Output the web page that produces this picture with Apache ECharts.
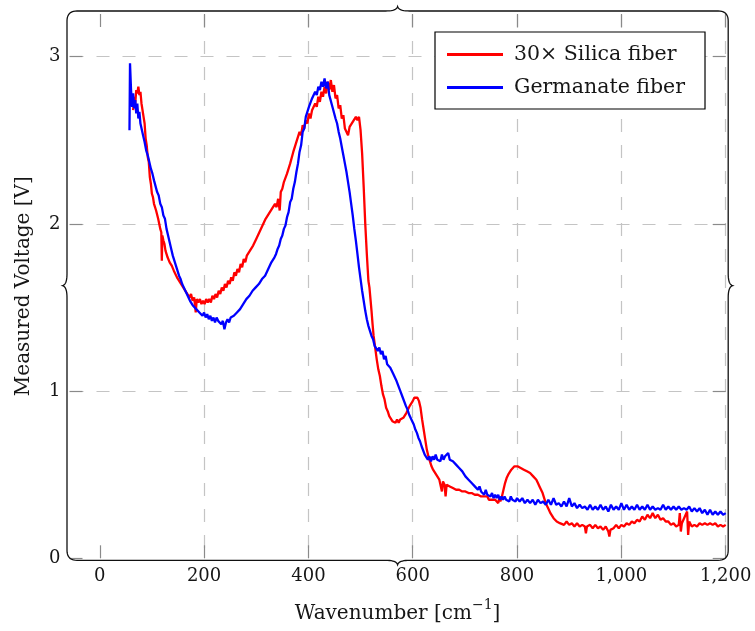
<!DOCTYPE html>
<html><head><meta charset="utf-8">
<script src="https://cdn.jsdelivr.net/npm/echarts@6/dist/echarts.min.js"></script>
<style>html,body{margin:0;padding:0;background:#fff}#c{width:755px;height:631px}</style>
</head><body><div id="c"></div>
<script>
// ---- data ----
const xTicks = [0, 200, 400, 600, 800, 1000, 1200];
const yTicks = [0, 1, 2, 3];
const xMin = -58, xMax = 1200, yMin = 0, yMax = 3.255;
const seriesNames = ['30× Silica fiber', 'Germanate fiber'];
const xTitle = 'Wavenumber [cm';
const xTitleSup = '−1';
const yTitle = 'Measured Voltage [V]';

// 30x Silica fiber: [wavenumber cm^-1, voltage V]
const silica = [[64,2.68],[66,2.76],[68,2.72],[70,2.80],[72,2.78],[74,2.82],[76,2.77],[78,2.79],[80,2.72],[82,2.73],[84,2.64],[86,2.60],[88,2.51],[90,2.47],[92,2.40],[94,2.37],[96,2.28],[98,2.24],[100,2.18],[102,2.16],[104,2.12],[106,2.13],[108,2.08],[110,2.07],[112,2.03],[114,2.02],[116,1.97],[118,1.95],[119,1.78],[120,1.93],[122,1.90],[124,1.88],[126,1.84],[128,1.85],[130,1.80],[132,1.81],[134,1.77],[136,1.78],[138,1.75],[140,1.76],[142,1.72],[145,1.72],[148,1.68],[151,1.69],[154,1.65],[157,1.66],[160,1.62],[163,1.63],[166,1.59],[169,1.60],[172,1.56],[175,1.58],[178,1.54],[181,1.56],[184,1.47],[186,1.55],[189,1.53],[192,1.55],[195,1.52],[198,1.54],[201,1.52],[204,1.55],[207,1.53],[210,1.55],[213,1.53],[216,1.57],[219,1.55],[222,1.58],[225,1.56],[228,1.60],[231,1.58],[234,1.62],[237,1.60],[240,1.64],[243,1.62],[246,1.66],[249,1.64],[252,1.68],[255,1.66],[258,1.71],[261,1.69],[264,1.73],[267,1.71],[270,1.76],[273,1.74],[276,1.79],[279,1.77],[282,1.81],[285,1.80],[288,1.84],[291,1.83],[294,1.87],[297,1.86],[300,1.91],[303,1.90],[306,1.95],[309,1.94],[312,1.99],[315,1.98],[318,2.03],[321,2.02],[324,2.06],[327,2.05],[330,2.09],[333,2.08],[336,2.12],[339,2.10],[342,2.15],[345,2.08],[347,2.19],[350,2.21],[353,2.25],[356,2.25],[359,2.30],[362,2.30],[365,2.36],[368,2.37],[371,2.43],[374,2.42],[377,2.49],[380,2.48],[383,2.55],[386,2.53],[389,2.59],[392,2.57],[395,2.62],[398,2.60],[401,2.66],[404,2.63],[407,2.68],[410,2.67],[413,2.72],[416,2.70],[419,2.76],[422,2.73],[425,2.79],[428,2.76],[431,2.82],[434,2.78],[437,2.85],[440,2.80],[443,2.86],[446,2.79],[449,2.83],[452,2.75],[455,2.77],[458,2.69],[461,2.71],[464,2.63],[467,2.65],[470,2.57],[473,2.58],[476,2.53],[479,2.58],[482,2.57],[485,2.61],[488,2.60],[491,2.64],[494,2.62],[497,2.64],[500,2.56],[503,2.42],[506,2.22],[509,2.00],[512,1.82],[515,1.66],[517,1.62],[519,1.55],[521,1.48],[523,1.40],[525,1.33],[528,1.26],[531,1.19],[534,1.13],[537,1.09],[540,1.03],[543,0.98],[546,0.95],[549,0.90],[552,0.88],[555,0.85],[558,0.85],[561,0.82],[564,0.83],[567,0.81],[570,0.83],[573,0.81],[576,0.83],[579,0.82],[582,0.84],[585,0.85],[588,0.87],[591,0.88],[594,0.91],[597,0.92],[600,0.94],[603,0.96],[606,0.97],[609,0.96],[612,0.94],[615,0.90],[618,0.83],[621,0.77],[624,0.71],[627,0.65],[630,0.61],[633,0.58],[636,0.55],[639,0.53],[642,0.52],[645,0.50],[648,0.49],[651,0.47],[654,0.47],[656,0.40],[658,0.46],[661,0.44],[663,0.37],[665,0.44],[668,0.43],[671,0.43],[674,0.42],[677,0.42],[680,0.41],[683,0.41],[686,0.40],[689,0.41],[692,0.40],[695,0.40],[698,0.39],[701,0.40],[704,0.39],[707,0.39],[710,0.38],[713,0.39],[716,0.38],[719,0.38],[722,0.37],[725,0.38],[728,0.37],[731,0.37],[734,0.36],[737,0.37],[740,0.36],[743,0.37],[746,0.35],[749,0.36],[752,0.35],[755,0.36],[758,0.35],[761,0.35],[764,0.33],[766,0.36],[768,0.34],[771,0.37],[774,0.41],[777,0.45],[780,0.48],[783,0.50],[786,0.51],[789,0.53],[792,0.53],[795,0.55],[798,0.54],[801,0.55],[804,0.54],[807,0.54],[810,0.53],[813,0.53],[816,0.52],[819,0.52],[822,0.51],[825,0.51],[828,0.50],[831,0.49],[834,0.48],[837,0.47],[840,0.45],[843,0.43],[846,0.41],[849,0.39],[852,0.36],[855,0.33],[858,0.31],[861,0.29],[864,0.27],[867,0.26],[870,0.24],[873,0.24],[876,0.22],[879,0.23],[882,0.21],[885,0.22],[890,0.20],[895,0.22],[900,0.20],[905,0.21],[910,0.19],[915,0.21],[920,0.19],[925,0.20],[930,0.19],[932,0.15],[934,0.19],[940,0.20],[945,0.18],[950,0.20],[955,0.18],[960,0.19],[965,0.17],[970,0.19],[975,0.16],[977,0.13],[979,0.17],[985,0.18],[990,0.20],[995,0.18],[1000,0.20],[1005,0.19],[1010,0.21],[1015,0.20],[1020,0.22],[1025,0.21],[1030,0.23],[1035,0.22],[1040,0.25],[1045,0.23],[1050,0.26],[1055,0.24],[1060,0.27],[1065,0.24],[1070,0.26],[1075,0.23],[1080,0.24],[1085,0.22],[1090,0.22],[1095,0.20],[1100,0.21],[1105,0.19],[1110,0.20],[1112,0.27],[1114,0.16],[1116,0.21],[1119,0.20],[1126,0.28],[1128,0.14],[1130,0.22],[1135,0.19],[1140,0.20],[1145,0.19],[1150,0.21],[1155,0.20],[1160,0.21],[1165,0.20],[1170,0.21],[1175,0.20],[1180,0.21],[1185,0.19],[1190,0.20],[1195,0.19],[1200,0.20]];

// Germanate fiber: [wavenumber cm^-1, voltage V]
const germanate = [[57,2.56],[58,2.96],[60,2.80],[62,2.70],[64,2.78],[66,2.69],[68,2.74],[70,2.66],[72,2.72],[74,2.63],[76,2.67],[78,2.60],[80,2.59],[83,2.53],[86,2.49],[89,2.44],[92,2.41],[95,2.37],[98,2.33],[101,2.30],[104,2.26],[107,2.25],[110,2.19],[113,2.17],[116,2.12],[119,2.10],[122,2.05],[125,2.03],[128,1.97],[131,1.93],[134,1.89],[137,1.85],[140,1.81],[143,1.78],[146,1.75],[149,1.72],[152,1.69],[155,1.67],[158,1.64],[161,1.63],[164,1.60],[167,1.58],[170,1.57],[173,1.54],[176,1.54],[179,1.51],[182,1.52],[185,1.49],[188,1.49],[191,1.47],[194,1.48],[197,1.45],[200,1.47],[203,1.44],[206,1.46],[209,1.43],[212,1.45],[215,1.42],[218,1.44],[221,1.41],[224,1.44],[227,1.42],[230,1.43],[233,1.40],[236,1.42],[239,1.37],[242,1.41],[245,1.43],[248,1.41],[251,1.44],[254,1.43],[257,1.45],[260,1.44],[263,1.47],[266,1.47],[269,1.49],[272,1.50],[275,1.52],[278,1.52],[281,1.55],[284,1.55],[287,1.57],[290,1.57],[293,1.60],[296,1.59],[299,1.62],[302,1.62],[305,1.64],[308,1.64],[311,1.67],[314,1.67],[317,1.69],[320,1.70],[323,1.73],[326,1.73],[329,1.77],[332,1.77],[335,1.80],[338,1.82],[341,1.85],[344,1.87],[347,1.91],[350,1.93],[353,1.97],[356,1.99],[359,2.04],[362,2.07],[365,2.13],[368,2.15],[371,2.21],[374,2.25],[377,2.31],[380,2.36],[383,2.43],[386,2.47],[389,2.55],[392,2.57],[395,2.64],[398,2.65],[401,2.70],[404,2.69],[407,2.75],[410,2.74],[413,2.79],[416,2.77],[419,2.82],[422,2.80],[425,2.85],[428,2.82],[431,2.87],[434,2.81],[437,2.85],[440,2.77],[443,2.76],[446,2.70],[449,2.69],[452,2.63],[455,2.60],[458,2.55],[461,2.51],[464,2.46],[467,2.41],[470,2.36],[473,2.31],[476,2.25],[479,2.19],[482,2.12],[485,2.05],[488,1.97],[491,1.90],[494,1.82],[497,1.74],[500,1.67],[503,1.60],[506,1.54],[509,1.48],[512,1.43],[515,1.39],[518,1.36],[521,1.33],[524,1.31],[527,1.27],[530,1.27],[533,1.24],[536,1.26],[539,1.22],[542,1.24],[545,1.19],[548,1.21],[551,1.16],[554,1.17],[557,1.14],[560,1.14],[563,1.10],[566,1.10],[569,1.06],[572,1.05],[575,1.01],[578,1.00],[581,0.96],[584,0.95],[587,0.91],[590,0.89],[593,0.86],[596,0.85],[599,0.82],[602,0.80],[605,0.77],[608,0.75],[611,0.72],[614,0.70],[617,0.67],[620,0.66],[623,0.62],[626,0.62],[629,0.59],[632,0.61],[635,0.58],[638,0.61],[641,0.59],[644,0.62],[647,0.59],[650,0.60],[653,0.58],[656,0.62],[659,0.59],[662,0.61],[665,0.60],[668,0.63],[671,0.59],[674,0.60],[677,0.58],[680,0.59],[683,0.56],[686,0.57],[689,0.54],[692,0.55],[695,0.52],[698,0.52],[701,0.49],[704,0.50],[707,0.47],[710,0.48],[713,0.45],[716,0.46],[719,0.43],[722,0.44],[725,0.41],[728,0.43],[731,0.40],[734,0.41],[737,0.38],[740,0.41],[743,0.38],[746,0.39],[749,0.37],[752,0.39],[755,0.36],[758,0.38],[761,0.36],[764,0.38],[767,0.35],[770,0.37],[773,0.35],[776,0.37],[779,0.35],[782,0.36],[785,0.34],[788,0.37],[791,0.35],[794,0.36],[797,0.34],[800,0.36],[805,0.34],[810,0.36],[815,0.33],[820,0.35],[825,0.33],[830,0.35],[835,0.32],[840,0.35],[845,0.33],[850,0.34],[855,0.32],[860,0.35],[865,0.32],[870,0.36],[875,0.32],[880,0.33],[885,0.31],[890,0.34],[895,0.31],[900,0.36],[905,0.31],[910,0.33],[915,0.30],[920,0.32],[925,0.30],[930,0.31],[935,0.29],[940,0.32],[945,0.29],[950,0.31],[955,0.29],[960,0.32],[965,0.29],[970,0.31],[975,0.28],[980,0.32],[985,0.29],[990,0.31],[995,0.29],[1000,0.33],[1005,0.29],[1010,0.32],[1015,0.29],[1020,0.31],[1025,0.29],[1030,0.32],[1035,0.29],[1040,0.31],[1045,0.29],[1050,0.32],[1055,0.29],[1060,0.31],[1065,0.29],[1070,0.30],[1075,0.29],[1080,0.32],[1085,0.29],[1090,0.31],[1095,0.29],[1100,0.31],[1105,0.29],[1110,0.31],[1115,0.29],[1120,0.30],[1125,0.29],[1130,0.31],[1135,0.28],[1140,0.30],[1145,0.28],[1150,0.30],[1155,0.27],[1160,0.29],[1165,0.26],[1170,0.29],[1175,0.26],[1180,0.28],[1185,0.26],[1190,0.28],[1195,0.26],[1200,0.27]];

// ---- chart ----
const FONT = 'DejaVu Serif';
const TXT = '#161616';
const gridCol = '#c4c4c4';
const tickCol = '#8a8a8a';
const fmtX = v => String(v).replace(/\B(?=(\d{3})+(?!\d))/g, ',');

const chart = echarts.init(document.getElementById('c'), null, {renderer: 'canvas'});

const dash = {color: gridCol, width: 1.2, type: [13, 13], dashOffset: 25};
const tick = {show: true, inside: true, length: 13, lineStyle: {color: tickCol, width: 1.2}};

const option = {
  animation: false,
  backgroundColor: '#fff',
  grid: {left: 69.5, right: 29.3, top: 14, bottom: 72.7, outerBoundsMode: 'none', containLabel: false},
  legend: {
    data: seriesNames,
    orient: 'vertical',
    left: 435, top: 32,
    padding: [12, 20, 11, 12],
    itemGap: 12,
    itemWidth: 56, itemHeight: 3,
    icon: 'rect',
    selectedMode: false,
    borderColor: '#000', borderWidth: 1.2, borderRadius: 0,
    backgroundColor: '#fff',
    textStyle: {fontFamily: FONT, fontSize: 20.5, color: TXT, padding: [0, 0, 0, 6]}
  },
  xAxis: [{
    type: 'value', min: xMin, max: xMax, splitNumber: 6, position: 'bottom',
    axisLine: {show: false, onZero: false},
    axisTick: Object.assign({customValues: xTicks}, tick),
    axisLabel: {customValues: xTicks, formatter: fmtX, margin: 9, fontFamily: FONT, fontSize: 18, color: TXT},
    splitLine: {show: true, showMinLine: false, showMaxLine: true, lineStyle: dash},
    name: '{n|' + xTitle + '}{s|' + xTitleSup + '}{n|]}',
    nameLocation: 'middle', nameGap: 40,
    nameTextStyle: {rich: {
      n: {fontFamily: FONT, fontSize: 20, color: TXT, lineHeight: 30},
      s: {fontFamily: FONT, fontSize: 14, color: TXT, lineHeight: 10, verticalAlign: 'top'}
    }}
  }, {
    type: 'value', min: xMin, max: xMax, splitNumber: 6, position: 'top',
    axisLine: {show: false, onZero: false},
    axisTick: Object.assign({customValues: xTicks}, tick),
    axisLabel: {show: false}, splitLine: {show: false}
  }],
  yAxis: [{
    type: 'value', min: yMin, max: yMax, interval: 1, position: 'left',
    axisLine: {show: false, onZero: false},
    axisTick: Object.assign({customValues: yTicks}, tick),
    axisLabel: {customValues: yTicks, margin: 9, fontFamily: FONT, fontSize: 18, color: TXT},
    splitLine: {show: true, showMinLine: false, showMaxLine: true, lineStyle: dash},
    name: yTitle, nameLocation: 'middle', nameGap: 36,
    nameTextStyle: {fontFamily: FONT, fontSize: 20, color: TXT}
  }, {
    type: 'value', min: yMin, max: yMax, interval: 1, position: 'right',
    axisLine: {show: false, onZero: false},
    axisTick: Object.assign({customValues: yTicks}, tick),
    axisLabel: {show: false}, splitLine: {show: false}
  }],
  series: [{
    name: seriesNames[0], type: 'line', data: silica, xAxisIndex: 0, yAxisIndex: 0,
    symbol: 'none', showSymbol: false, smooth: false,
    lineStyle: {color: '#ff0000', width: 2.3}, itemStyle: {color: '#ff0000'}
  }, {
    name: seriesNames[1], type: 'line', data: germanate, xAxisIndex: 0, yAxisIndex: 0,
    symbol: 'none', showSymbol: false, smooth: false,
    lineStyle: {color: '#0000ff', width: 2.3}, itemStyle: {color: '#0000ff'}
  }]
};
chart.setOption(option);

// ---- brace-decorated frame around the axis box (decoration only) ----
function frame() {
  const tl = chart.convertToPixel({gridIndex: 0}, [xMin, yMax]);
  const br = chart.convertToPixel({gridIndex: 0}, [xMax, yMin]);
  const L = tl[0] - 2.5, T = tl[1] - 3, R = br[0] + 2.5, B = br[1] + 2;
  const r = 10, c = 4.5, w = 12;
  const mx = (L + R) / 2, my = (T + B) / 2;
  const pts = [];
  let cur = [L, T + r];
  pts.push(cur.slice());
  function Lto(x, y) { cur = [x, y]; pts.push([x, y]); }
  function Q(cx, cy, x, y) {
    const p0 = cur;
    for (let i = 1; i <= 10; i++) {
      const t = i / 10, u = 1 - t;
      pts.push([u * u * p0[0] + 2 * u * t * cx + t * t * x, u * u * p0[1] + 2 * u * t * cy + t * t * y]);
    }
    cur = [x, y];
  }
  Q(L, T, L + r, T);
  Lto(mx - w, T); Q(mx - 1, T, mx, T - c); Q(mx + 1, T, mx + w, T);
  Lto(R - r, T); Q(R, T, R, T + r);
  Lto(R, my - w); Q(R, my - 1, R + c, my); Q(R, my + 1, R, my + w);
  Lto(R, B - r); Q(R, B, R - r, B);
  Lto(mx + w, B); Q(mx + 1, B, mx, B + c); Q(mx - 1, B, mx - w, B);
  Lto(L + r, B); Q(L, B, L, B - r);
  Lto(L, my + w); Q(L, my + 1, L - c, my); Q(L, my - 1, L, my - w);
  Lto(L, T + r);
  chart.setOption({graphic: [{
    type: 'polyline', z: 100, silent: true,
    shape: {points: pts},
    style: {fill: null, stroke: '#111', lineWidth: 1.3}
  }]});
}
frame();
</script></body></html>
